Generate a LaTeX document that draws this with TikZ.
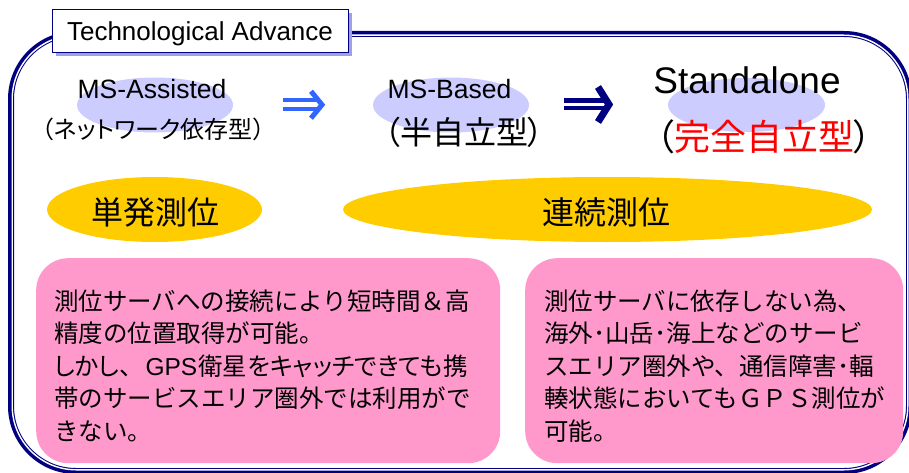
\documentclass[tikz,border=0pt]{standalone}
\usepackage{fontspec}
\setmainfont{Liberation Sans}
\newfontfamily\jp{Noto Sans CJK JP}
\newfontfamily\jpp[RawFeature=+palt]{Noto Sans CJK JP}
\usetikzlibrary{shapes.geometric,calc,shadows}
\definecolor{navyc}{RGB}{0,0,128}
\definecolor{lavc}{RGB}{204,204,255}
\definecolor{yelc}{RGB}{255,204,0}
\definecolor{pinkc}{RGB}{255,153,204}
\definecolor{bluec}{RGB}{51,102,255}
\definecolor{shadc}{RGB}{160,160,230}
\newcommand\fsb[2]{\fontsize{#1}{#2}\selectfont}
\tikzset{
  lavell/.style={ellipse, fill=lavc, draw=none, inner sep=0pt},
  yelell/.style={ellipse, fill=yelc, draw=none, inner sep=0pt},
  pinkbox/.style={rectangle, fill=pinkc, draw=none, rounded corners=32pt, inner sep=0pt, anchor=north west},
  lbl/.style={anchor=base, inner sep=0pt},
  body/.style={anchor=base west, inner sep=0pt, align=left, font=\jp\fsb{24.5}{32.5}},
  barsblue/.style={bluec, line width=4pt, double=white, double distance=4.5pt},
  chevblue/.style={bluec, line width=5pt, line join=miter},
  barsnavy/.style={navyc, line width=4.5pt, double=white, double distance=3pt},
  chevnavy/.style={navyc, line width=7pt, line join=miter},
}
\begin{document}
\begin{tikzpicture}[x=1pt,y=-1pt]
\useasboundingbox (0,0) rectangle (909,473);
% outer frame (double line)
\draw[navyc, line width=6pt, rounded corners=65pt] (11,34) rectangle (909,471);
\draw[white, line width=1.4pt, rounded corners=64pt] (12.2,35.2) rectangle (907.8,469.8);
% title
\node[draw=navyc, line width=1pt, fill=white, inner sep=0pt, anchor=north west,
      minimum width=296pt, text height=30.5pt, text depth=12pt,
      drop shadow={shadow xshift=4pt, shadow yshift=-3.5pt, fill=shadc, opacity=1},
      font=\fsb{26}{30}] (title) at (51.5,9.5) {Technological Advance};
% lavender ellipses
\node[lavell, minimum width=156pt, minimum height=55pt] (e1) at (155,105) {};
\node[lavell, minimum width=156pt, minimum height=55pt] (e2) at (451,105) {};
\node[lavell, minimum width=157pt, minimum height=54pt] (e3) at (746.5,105) {};
% labels
\node[lbl, font=\fsb{26.5}{30}] (t1) at (152,99) {MS-Assisted};
\node[lbl, font=\jpp\fsb{24}{26}] (t1j) at (153.5,138.5) {（ネットワーク依存型）};
\node[lbl, font=\fsb{26.5}{30}] (t2) at (449.5,99) {MS-Based};
\node[lbl, font=\jpp\fsb{32}{34}] (t2j) at (464,145) {（半自立型）};
\node[lbl, font=\fsb{37}{40}] (t3) at (747,94) {Standalone};
\node[lbl, font=\jpp\fsb{36}{38}] (t3j) at (764,150.5) {（\textcolor{red}{完全自立型}）};
% arrows
\coordinate (b1) at (283,104.75);
\coordinate (b2) at (318,104.75);
\draw[barsblue] (b1) -- (b2);
\draw[chevblue] ($(b2)+(-7,-13.5)$) -- ($(b2)+(4,0)$) -- ($(b2)+(-7,13.5)$);
\coordinate (c1) at (564,104.5);
\coordinate (c2) at (605,104.5);
\draw[barsnavy] (c1) -- (c2);
\draw[chevnavy] ($(c2)+(-7,-17.5)$) -- ($(c2)+(4,0)$) -- ($(c2)+(-7,17.5)$);
% yellow ellipses
\node[yelell, minimum width=215pt, minimum height=65pt] (y1) at (154.5,209.5) {};
\node[yelell, minimum width=529pt, minimum height=65pt] (y2) at (607.5,209.5) {};
\node[lbl, font=\jp\fsb{32}{34}] (y1t) at (155,224) {単発測位};
\node[lbl, font=\jp\fsb{32}{34}] (y2t) at (606,224) {連続測位};
% pink boxes
\node[pinkbox, minimum width=464pt, minimum height=205pt] (p1) at (36,258) {};
\node[pinkbox, minimum width=378pt, minimum height=205pt] (p2) at (525,258) {};
\node[body] (p1t) at (54,440) {測位サーバへの接続により短時間＆高\\精度の位置取得が可能。\\{\jpp しかし、}\hspace{14pt}{\rmfamily GPS}\hspace{1pt}{\jpp 衛星をキャッチできても携}\\帯のサービスエリア圏外では利用がで\\きない。};
\node[body] (p2t) at (544,440) {測位サーバに依存しない為、\\海外･山岳･海上などのサービ\\スエリア圏外や、通信障害･輻\\輳状態においてもＧＰＳ測位が\\可能。};
\end{tikzpicture}
\end{document}
